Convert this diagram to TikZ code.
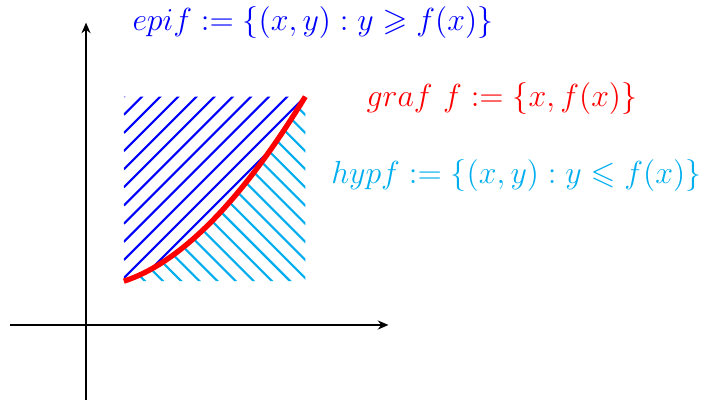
\documentclass[tikz,border=0pt]{standalone}
\usepackage{amssymb}
\usetikzlibrary{arrows.meta}
\definecolor{hypcyan}{RGB}{0,174,239}

\begin{document}
\begin{tikzpicture}[>={Stealth[length=4pt,width=3.4pt]}, every node/.style={font=\large}]
    \useasboundingbox (-1.138,-0.992) rectangle (8.148,4.299);

    % Trục tọa độ
    \coordinate (xl) at (-1,0);
    \coordinate (xr) at (4,0);
    \coordinate (yd) at (0,-1);
    \coordinate (yu) at (0,4);
    \draw[->, line width=1.1pt] (xl) -- (xr);
    \draw[->, line width=1.1pt] (yd) -- (yu);

    % Góc của hình vuông
    \coordinate (A) at (0.5,0.58);
    \coordinate (C) at (2.9,3.02);

    % --- GẠCH TRÊN (epi) ---
    \begin{scope}
        \clip (A) .. controls (1.5,0.9) and (2.4,2.2) .. (C) -| (A) -- cycle;
        \foreach \k in {0,...,20}
            \draw[blue, thick] (0.5,3.02-0.24*\k) -- ++(2.6,2.6);
    \end{scope}

    % --- GẠCH DƯỚI (hyp) ---
    \begin{scope}
        \clip (A) .. controls (1.5,0.9) and (2.4,2.2) .. (C) |- (A) -- cycle;
        \foreach \k in {-12,...,12}
            \draw[hypcyan, thick] (0.5,3.02-0.24*\k) -- ++(2.6,-2.6);
    \end{scope}

    % Đồ thị f
    \draw[red, line width=2pt] (A) .. controls (1.5,0.9) and (2.4,2.2) .. (C);

    % Nhãn
    \node[blue] (epi) at (3,4) {$epi f := \{(x,y) : y \geqslant f(x)\}$};
    \node[red] (graf) at (5.5,3) {$graf\ f := \{x, f(x)\}$};
    \node[hypcyan] (hyp) at (5.69,1.98) {$hyp f := \{(x,y) : y \leqslant f(x)\}$};
\end{tikzpicture}
\end{document}
